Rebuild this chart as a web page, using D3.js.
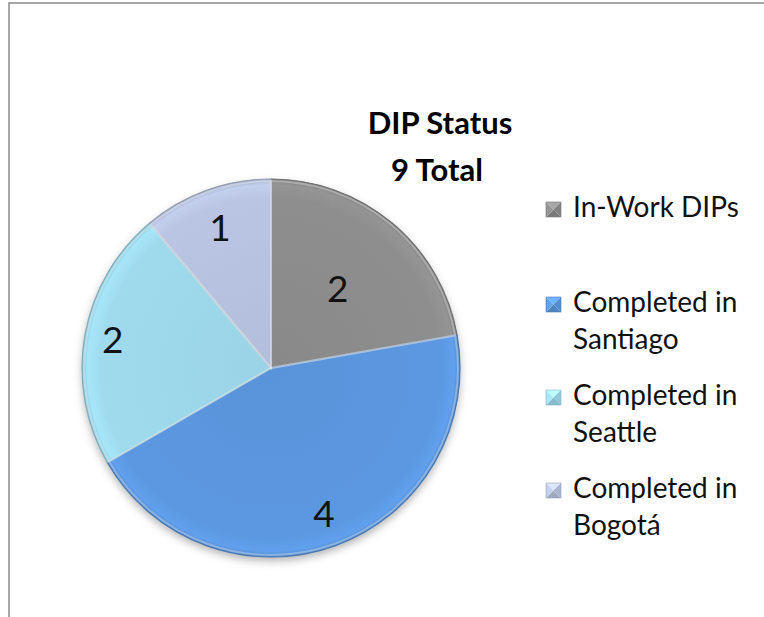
<!DOCTYPE html>
<html>
<head>
<meta charset="utf-8">
<script src="https://cdn.jsdelivr.net/npm/d3@7"></script>
<style>
  html, body { margin: 0; padding: 0; background: #fff; }
  svg { display: block; }
  text { font-family: Lato, "Open Sans", sans-serif; }
</style>
</head>
<body>
<svg id="chart" width="764" height="617"></svg>
<script>
const categories = ["In-Work DIPs", "Completed in Santiago", "Completed in Seattle", "Completed in Bogotá"];
const legendLines = [["In-Work DIPs"], ["Completed in", "Santiago"], ["Completed in", "Seattle"], ["Completed in", "Bogotá"]];
const values = [2, 4, 2, 1];
const titleLines = ["DIP Status", "9 Total"];
const colors = ["#8c8c8c", "#5b96de", "#9dd8ea", "#b6c2df"];
const labelRadiusFrac = [0.55, 0.82, 0.85, 0.79];

const svg = d3.select("#chart");
const W = 764, H = 617;
const cx = 271, cy = 368, R = 189;

// frame
svg.append("path")
  .attr("d", `M9,${H} L9,3 L${W},3`)
  .attr("fill", "none").attr("stroke", "#8a8a8a").attr("stroke-width", 1.5);

const defs = svg.append("defs");
const shadow = defs.append("filter").attr("id", "shadow")
  .attr("x", "-20%").attr("y", "-20%").attr("width", "140%").attr("height", "140%");
shadow.append("feDropShadow").attr("dx", 0).attr("dy", 4).attr("stdDeviation", 4)
  .attr("flood-color", "#000").attr("flood-opacity", 0.3);

colors.forEach((c, i) => {
  const g = defs.append("radialGradient").attr("id", "grad" + i)
    .attr("gradientUnits", "userSpaceOnUse")
    .attr("cx", 0).attr("cy", 0).attr("r", R);
  const base = d3.color(c);
  g.append("stop").attr("offset", "0%").attr("stop-color", base.darker(0.06));
  g.append("stop").attr("offset", "90%").attr("stop-color", base.brighter(0.04));
  g.append("stop").attr("offset", "97%").attr("stop-color", base.brighter(0.18));
  g.append("stop").attr("offset", "100%").attr("stop-color", base.darker(0.3));
});

const pie = d3.pie().sort(null).value(d => d)(values);
const arc = d3.arc().innerRadius(0).outerRadius(R);
const arcInner = d3.arc().innerRadius(0).outerRadius(R - 2);

const gPie = svg.append("g").attr("transform", `translate(${cx},${cy})`);
const shadowLayer = gPie.append("g").attr("filter", "url(#shadow)");
shadowLayer.selectAll("path").data(pie).join("path")
  .attr("d", arc).attr("fill", (d, i) => colors[i]);

gPie.selectAll("path.slice").data(pie).join("path")
  .attr("class", "slice")
  .attr("d", arc)
  .attr("fill", (d, i) => `url(#grad${i})`)
  .attr("stroke", (d, i) => d3.color(colors[i]).darker(0.6))
  .attr("stroke-width", 1.2)
  .attr("stroke-linejoin", "round");

gPie.selectAll("path.hl").data(pie).join("path")
  .attr("class", "hl")
  .attr("d", arcInner)
  .attr("fill", "none")
  .attr("stroke", "#fff").attr("stroke-opacity", 0.3).attr("stroke-width", 2);

gPie.selectAll("text.lbl").data(pie).join("text")
  .attr("class", "lbl")
  .attr("transform", (d, i) => {
    const a = (d.startAngle + d.endAngle) / 2;
    const r = R * labelRadiusFrac[i];
    return `translate(${r * Math.sin(a)},${-r * Math.cos(a)})`;
  })
  .attr("text-anchor", "middle").attr("dy", "0.36em")
  .attr("font-size", 37).attr("fill", "#111")
  .text(d => d.data);

// title
const title = svg.append("text").attr("text-anchor", "middle").attr("font-weight", "bold")
  .attr("font-size", 31).attr("fill", "#000");
title.append("tspan").attr("x", 440).attr("y", 134).text(titleLines[0]);
title.append("tspan").attr("x", 437).attr("y", 181).text(titleLines[1]);

// legend
const entryY = [217, 312, 405, 498];
const lineH = 37;
const leg = svg.append("g");
legendLines.forEach((lines, i) => {
  const y0 = entryY[i];
  const s = 15, x0 = 546, yTop = y0 - 15;
  const c = d3.color(colors[i]);
  const mx = x0 + s / 2, my = yTop + s / 2;
  const tri = [
    [[x0, yTop], [x0 + s, yTop], [mx, my], c.brighter(0.5)],
    [[x0 + s, yTop], [x0 + s, yTop + s], [mx, my], c.darker(0.2)],
    [[x0, yTop + s], [x0 + s, yTop + s], [mx, my], c.darker(0.4)],
    [[x0, yTop], [x0, yTop + s], [mx, my], c.brighter(0.2)]
  ];
  tri.forEach(t => {
    leg.append("path").attr("d", `M${t[0]}L${t[1]}L${t[2]}Z`).attr("fill", t[3]);
  });
  leg.append("rect").attr("x", x0).attr("y", yTop).attr("width", s).attr("height", s)
    .attr("fill", "none").attr("stroke", c.darker(0.5)).attr("stroke-width", 0.6);
  const t = leg.append("text").attr("font-size", 28).attr("fill", "#111");
  lines.forEach((ln, j) => {
    t.append("tspan").attr("x", 573).attr("y", y0 + j * lineH).text(ln);
  });
});
</script>
</body>
</html>
